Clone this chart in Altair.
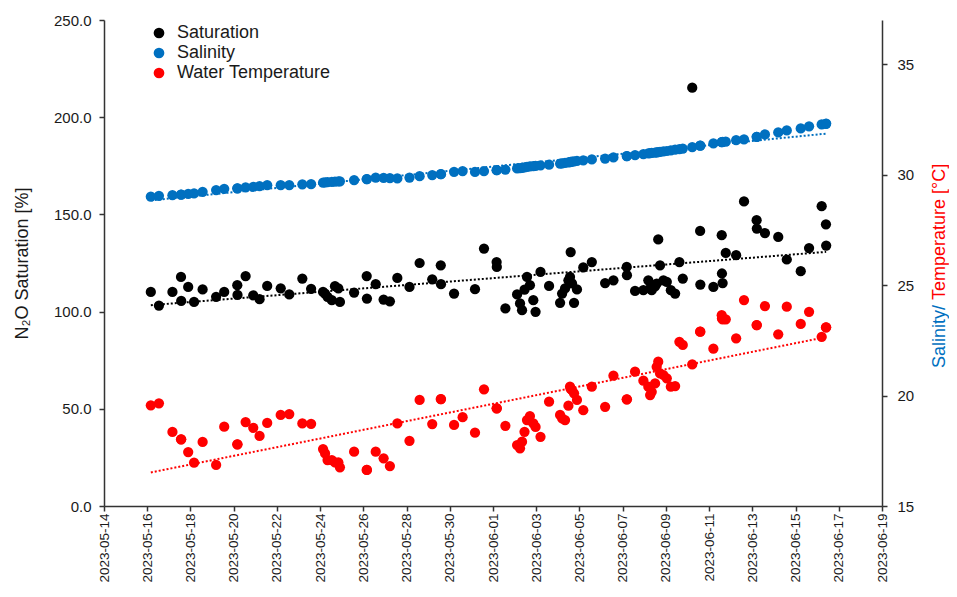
import altair as alt

# ---------------- data ----------------
TIMES = [
    "2023-05-16 04:00", "2023-05-16 13:00", "2023-05-17 04:00", "2023-05-17 13:30",
    "2023-05-17 13:45", "2023-05-17 21:30", "2023-05-18 04:00", "2023-05-18 13:30",
    "2023-05-19 04:30", "2023-05-19 13:30", "2023-05-20 04:00", "2023-05-20 04:15",
    "2023-05-20 13:15", "2023-05-20 21:45", "2023-05-21 04:45", "2023-05-21 13:15",
    "2023-05-22 04:15", "2023-05-22 13:45", "2023-05-23 04:15", "2023-05-23 14:00",
    "2023-05-24 03:15", "2023-05-24 05:30", "2023-05-24 08:15", "2023-05-24 13:00",
    "2023-05-24 16:30", "2023-05-24 20:15", "2023-05-24 22:00", "2023-05-25 13:45",
    "2023-05-26 03:45", "2023-05-26 04:00", "2023-05-26 13:45", "2023-05-26 22:30",
    "2023-05-27 05:30", "2023-05-27 13:45", "2023-05-28 03:15", "2023-05-28 14:30",
    "2023-05-29 04:30", "2023-05-29 14:00", "2023-05-29 14:15", "2023-05-30 04:45",
    "2023-05-30 14:15", "2023-05-31 04:00", "2023-05-31 14:00", "2023-06-01 04:00",
    "2023-06-01 04:15", "2023-06-01 13:45", "2023-06-02 02:45", "2023-06-02 06:00",
    "2023-06-02 08:15", "2023-06-02 11:00", "2023-06-02 13:45", "2023-06-02 17:00",
    "2023-06-02 20:45", "2023-06-02 23:15", "2023-06-03 04:45", "2023-06-03 14:15",
    "2023-06-04 02:30", "2023-06-04 04:45", "2023-06-04 08:00", "2023-06-04 11:45",
    "2023-06-04 13:30", "2023-06-04 14:15", "2023-06-04 15:45", "2023-06-04 18:00",
    "2023-06-04 21:15", "2023-06-05 04:15", "2023-06-05 13:45", "2023-06-06 04:30",
    "2023-06-06 13:45", "2023-06-07 04:30", "2023-06-07 04:45", "2023-06-07 13:45",
    "2023-06-07 23:00", "2023-06-08 04:30", "2023-06-08 06:30", "2023-06-08 08:15",
    "2023-06-08 12:00", "2023-06-08 13:45", "2023-06-08 15:30", "2023-06-08 17:30",
    "2023-06-08 21:15", "2023-06-09 01:00", "2023-06-09 05:30", "2023-06-09 10:15",
    "2023-06-09 15:00", "2023-06-09 18:45", "2023-06-10 05:15", "2023-06-10 14:00",
    "2023-06-10 14:15", "2023-06-11 04:45", "2023-06-11 14:00", "2023-06-11 14:15",
    "2023-06-11 15:00", "2023-06-11 18:30", "2023-06-12 06:00", "2023-06-12 14:45",
    "2023-06-13 04:45", "2023-06-13 05:00", "2023-06-13 14:00", "2023-06-14 04:45",
    "2023-06-14 14:15", "2023-06-15 05:45", "2023-06-15 15:00", "2023-06-16 05:00",
    "2023-06-16 09:45", "2023-06-16 10:00",
]

SATURATION = [
    110.1, 103.1, 110.1, 117.8, 105.5, 112.7, 105.0, 111.4, 107.6, 110.1,
    113.6, 108.6, 118.3, 108.4, 106.4, 113.2, 112.0, 108.8, 117.0, 111.7,
    110.1, 109.3, 107.6, 105.9, 113.1, 111.9, 105.0, 109.8, 118.3, 106.7,
    114.1, 106.2, 105.3, 117.3, 112.7, 125.0, 116.6, 123.8, 114.1, 109.3,
    None, 111.5, 132.4, 125.5, 123.0, 101.6, 108.8, 104.2, 100.7, 111.3,
    117.8, 113.6, 105.9, 99.9, 120.4, 113.2, 104.5, 109.3, 111.9, 116.1,
    117.8, 130.6, 114.5, 104.5, 111.4, 122.7, 125.5, 114.7, 116.1, 123.0,
    118.7, 110.6, 111.0, 116.1, 112.0, 111.0, 113.0, 114.4, 137.1, 123.8,
    116.1, 115.3, 111.0, 109.3, 125.5, 117.0, 215.2, 141.5, 113.9, 112.7,
    139.3, 119.6, 114.7, 130.2, 129.0, 156.7, 147.0, 142.7, 140.4, 138.4,
    126.8, 120.8, 132.7, 154.2, 144.9, 134.0,
]

SALINITY = [
    29.00, 29.04, 29.07, 29.10, 29.10, 29.13, 29.15, 29.22, 29.30, 29.36,
    29.38, 29.38, 29.42, 29.45, 29.48, 29.52, 29.52, 29.53, 29.56, 29.57,
    29.64, 29.65, 29.66, 29.67, 29.68, 29.69, 29.70, 29.75, 29.80, 29.80,
    29.87, 29.85, 29.84, 29.83, 29.87, 29.93, 29.98, 30.02, 30.02, 30.13,
    30.16, 30.12, 30.16, 30.20, 30.20, 30.23, 30.28, 30.30, 30.31, 30.33,
    30.35, 30.37, 30.39, 30.40, 30.42, 30.45, 30.50, 30.51, 30.53, 30.55,
    30.57, 30.58, 30.59, 30.60, 30.62, 30.65, 30.69, 30.73, 30.78, 30.84,
    30.84, 30.88, 30.93, 30.96, 30.97, 30.98, 31.00, 31.01, 31.02, 31.03,
    31.05, 31.07, 31.10, 31.13, 31.16, 31.18, 31.25, 31.31, 31.31, 31.41,
    31.47, 31.47, 31.48, 31.49, 31.56, 31.60, 31.71, 31.71, 31.82, 31.91,
    32.00, 32.09, 32.19, 32.27, 32.30, 32.31,
]

WATER_TEMP = [
    19.56, 19.65, 18.35, 18.02, 18.02, 17.44, 16.96, 17.90, 16.86, 18.59,
    17.79, 17.79, 18.80, 18.54, 18.17, 18.76, 19.12, 19.16, 18.74, 18.72,
    17.58, 17.38, 17.08, 17.08, 16.98, 16.98, 16.75, 17.46, 16.63, 16.63,
    17.46, 17.16, 16.81, 18.74, 17.95, 19.80, 18.71, 19.84, 19.84, 18.67,
    19.02, 18.32, 20.28, 19.42, 19.42, 18.63, 17.76, 17.61, 17.91, 18.36,
    18.89, 19.07, 18.74, 18.58, 18.13, 19.72, 19.12, 18.97, 18.89, 19.54,
    20.40, 20.30, 20.25, 20.10, 19.80, 19.34, 20.40, 19.49, 20.90, 19.83,
    19.83, 21.08, 20.67, 20.40, 20.02, 20.17, 20.55, 21.30, 21.53, 21.00,
    20.93, 20.78, 20.40, 20.43, 22.43, 22.29, 21.41, 22.89, 22.89, 22.12,
    23.64, 23.49, 23.45, 23.45, 22.59, 24.32, 23.19, 23.19, 24.05, 22.77,
    24.02, 23.24, 23.79, 22.66, 23.09, 23.09,
]

SERIES = ["Saturation", "Salinity", "Water Temperature"]
COLORS = ["#000000", "#0070C0", "#FF0000"]

X_DOMAIN = ["2023-05-14", "2023-06-19"]
X_TICKS = [
    "2023-05-14", "2023-05-16", "2023-05-18", "2023-05-20", "2023-05-22",
    "2023-05-24", "2023-05-26", "2023-05-28", "2023-05-30", "2023-06-01",
    "2023-06-03", "2023-06-05", "2023-06-07", "2023-06-09", "2023-06-11",
    "2023-06-13", "2023-06-15", "2023-06-17", "2023-06-19",
]
LEFT_TICKS = [0, 50, 100, 150, 200, 250]
LEFT_DOMAIN = [0, 250]
RIGHT_TICKS = [15, 20, 25, 30, 35]
RIGHT_DOMAIN = [15, 37]

LEFT_TITLE = "N\u2082O Saturation [%]"
RIGHT_TITLE_PARTS = ["Salinity/", "Temperature [\u00b0C]"]

FONT = "Liberation Sans, Arial, Helvetica, sans-serif"
TEXT_COLOR = "#1a1a1a"
AXIS_COLOR = "#333333"


# ---------------- helpers ----------------
def iso(s):
    return s.replace(" ", "T") + ":00Z"


def dt(s):
    y, m, d = (int(p) for p in s.split("-"))
    return alt.DateTime(year=y, month=m, date=d, utc=True)


fmt = alt.DataFormat(parse={"t": "date"})

left_records = [
    {"t": iso(t), "value": v, "series": SERIES[0]}
    for t, v in zip(TIMES, SATURATION) if v is not None
]
right_records = [
    {"t": iso(t), "value": v, "series": SERIES[1]} for t, v in zip(TIMES, SALINITY)
] + [
    {"t": iso(t), "value": v, "series": SERIES[2]} for t, v in zip(TIMES, WATER_TEMP)
]

left_data = alt.InlineData(values=left_records, format=fmt)
right_data = alt.InlineData(values=right_records, format=fmt)

x_enc = alt.X(
    "t:T",
    scale=alt.Scale(type="utc", domain=[dt(X_DOMAIN[0]), dt(X_DOMAIN[1])]),
    axis=alt.Axis(
        values=[dt(s) for s in X_TICKS],
        format="%Y-%m-%d",
        labelAngle=270,
        title=None,
        tickSize=5,
        labelPadding=2,
        labelFontSize=13.5,
    ),
)

y_left = alt.Y(
    "value:Q",
    scale=alt.Scale(domain=LEFT_DOMAIN, nice=False, zero=False),
    axis=alt.Axis(
        orient="left",
        values=LEFT_TICKS,
        format=".1f",
        title=LEFT_TITLE,
        titleFontSize=18,
        titleFontWeight="normal",
        titlePadding=22,
        tickSize=5,
        labelPadding=8,
    ),
)

y_right = alt.Y(
    "value:Q",
    scale=alt.Scale(domain=RIGHT_DOMAIN, nice=False, zero=False),
    axis=alt.Axis(
        orient="right",
        values=RIGHT_TICKS,
        format="d",
        title=None,
        tickSize=5,
        labelPadding=10,
    ),
)

color_enc = alt.Color(
    "series:N",
    scale=alt.Scale(domain=SERIES, range=COLORS),
    legend=alt.Legend(
        title=None,
        orient="none",
        legendX=46,
        legendY=4,
        direction="vertical",
        symbolType="circle",
        symbolSize=115,
        symbolStrokeWidth=0,
        labelFontSize=18,
        labelFont=FONT,
        labelColor=TEXT_COLOR,
        labelOffset=9,
        rowPadding=2,
        padding=0,
    ),
)

POINT_SIZE = 105

sat_points = alt.Chart(left_data).mark_circle(size=POINT_SIZE, opacity=1).encode(
    x=x_enc, y=y_left, color=color_enc
)
sat_trend = (
    alt.Chart(left_data)
    .transform_regression("t", "value")
    .mark_line(color=COLORS[0], strokeDash=[2, 2], strokeWidth=2)
    .encode(x=x_enc, y=y_left)
)

right_points = alt.Chart(right_data).mark_circle(size=POINT_SIZE, opacity=1).encode(
    x=x_enc, y=y_right, color=color_enc
)
sal_trend = (
    alt.Chart(right_data)
    .transform_filter(alt.datum.series == SERIES[1])
    .transform_regression("t", "value")
    .mark_line(color=COLORS[1], strokeDash=[2, 2], strokeWidth=2)
    .encode(x=x_enc, y=y_right)
)
temp_trend = (
    alt.Chart(right_data)
    .transform_filter(alt.datum.series == SERIES[2])
    .transform_regression("t", "value")
    .mark_line(color=COLORS[2], strokeDash=[2, 2], strokeWidth=2)
    .encode(x=x_enc, y=y_right)
)

# two-coloured right axis title (rotated text)
title_a = alt.Chart(alt.InlineData(values=[{"txt": RIGHT_TITLE_PARTS[0]}])).mark_text(
    angle=270, align="right", baseline="middle", fontSize=18, font=FONT, color=COLORS[1]
).encode(text="txt:N", x=alt.value(836), y=alt.value(285))
title_b = alt.Chart(alt.InlineData(values=[{"txt": RIGHT_TITLE_PARTS[1]}])).mark_text(
    angle=270, align="left", baseline="middle", fontSize=18, font=FONT, color=COLORS[2]
).encode(text="txt:N", x=alt.value(836), y=alt.value(280))

left = alt.layer(sat_points, sat_trend)
right = alt.layer(right_points, sal_trend, temp_trend, title_a, title_b)

chart = (
    alt.layer(left, right)
    .resolve_scale(y="independent")
    .properties(
        width=778,
        height=486,
        autosize=alt.AutoSizeParams(type="none"),
        padding={"left": 96, "top": 12, "right": 67, "bottom": 78},
        background="white",
    )
    .configure_view(strokeWidth=0)
    .configure_axis(
        grid=False,
        labelFont=FONT,
        titleFont=FONT,
        labelFontSize=15,
        labelColor=TEXT_COLOR,
        titleColor=TEXT_COLOR,
        domainColor=AXIS_COLOR,
        tickColor=AXIS_COLOR,
        domainWidth=1.5,
        tickWidth=1.5,
    )
)

chart.save("out.html", embed_options={"renderer": "svg", "actions": False})
